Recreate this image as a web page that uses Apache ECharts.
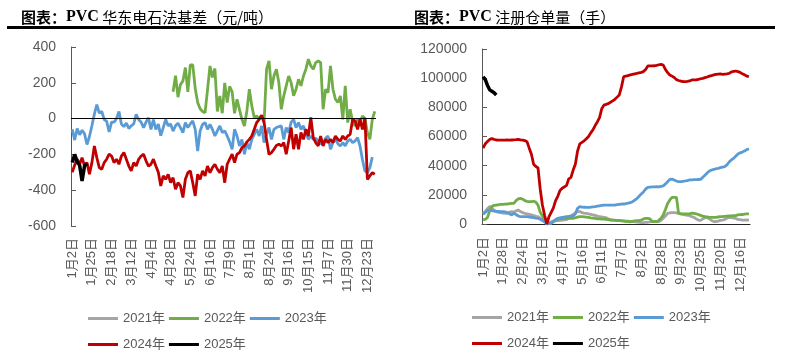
<!DOCTYPE html>
<html>
<head>
<meta charset="utf-8">
<script src="https://cdn.jsdelivr.net/npm/echarts/dist/echarts.min.js"></script>
<style>
html,body{margin:0;padding:0;background:#fff;}
#chart{width:789px;height:359px;}
</style>
</head>
<body>
<div id="chart"></div>
<script>
// ---------- data ----------
const seriesNames = ['2021年', '2022年', '2023年', '2024年', '2025年'];
const seriesColors = ['#A5A5A5', '#70AD47', '#5B9BD5', '#C00000', '#000000'];

// Left chart: PVC 华东电石法基差（元/吨）
const leftTickLabels = ['1月2日','1月25日','2月18日','3月12日','4月4日','4月28日','5月24日','6月16日','7月9日','8月1日','8月24日','9月16日','10月15日','11月7日','11月30日','12月23日'];
const leftCount = 124;
const leftStep = 8;
const leftYTicks = {min: -600, max: 400, interval: 200};

const basis2021 = [];
const basis2022 = [
  null,null,null,null,null,null,null,null,null,null,
  null,null,null,null,null,null,null,null,null,null,
  null,null,null,null,null,null,null,null,null,null,
  null,null,null,null,null,null,null,null,null,null,
  null,150,240,120,190,210,285,150,300,300,
  170,90,55,40,33,160,294,230,280,40,
  127,30,200,90,180,150,30,108,50,-4,
  -41,43,164,71,6,15,-4,15,-22,276,
  322,164,238,276,201,52,127,183,238,201,
  127,164,220,183,238,276,332,294,276,313,
  322,313,52,164,145,294,164,108,90,127,
  -4,183,-22,52,-22,-41,-4,-22,15,0,
  -78,-116,-4,40
];
const basis2023 = [
  -60,-120,-55,-90,-65,-85,-145,-100,-40,25,
  78,30,40,-5,-15,-75,-20,-20,0,40,
  -30,-45,-25,-55,-40,-30,24,-5,-20,-50,
  -20,5,-60,-5,-60,-30,-95,-50,-5,-40,
  -30,-70,-40,-25,-50,-78,-22,-50,-30,-13,
  -60,-181,-69,-32,-22,-60,-32,-60,-97,-69,
  -41,-78,-69,-97,-130,-171,-60,-97,-153,-116,
  -199,-134,-171,-116,-88,-60,-97,-41,-134,-88,
  -50,-116,-60,-50,-45,-41,-116,-50,-78,-20,
  -4,-50,-22,-60,-41,-80,-116,-97,-116,-110,
  -125,-143,-134,-110,-97,-171,-134,-116,-140,-153,
  -134,-153,-125,-116,-134,-125,-106,-153,-230,-292,
  -302,-274,-215
];
const basis2024 = [
  -300,-260,-227,-255,-218,-265,-246,-311,-246,-153,
  -218,-274,-283,-246,-227,-199,-209,-246,-227,-255,
  -209,-190,-227,-265,-292,-246,-265,-227,-209,-199,
  -236,-265,-255,-227,-265,-300,-376,-320,-339,-311,
  -358,-330,-395,-358,-376,-441,-339,-302,-292,-358,
  -432,-311,-339,-292,-320,-265,-302,-274,-255,-283,
  -302,-265,-358,-255,-227,-199,-246,-199,-190,-162,
  -153,-130,-116,-97,-60,-22,-4,19,-22,-116,
  -200,-190,-171,-150,-143,-153,-134,-199,-125,-50,
  -171,-88,-171,-78,-116,-60,-97,6,-106,-134,
  -153,-97,-153,-116,-134,-116,-134,-97,-116,-125,
  -97,-116,-97,-88,-4,-13,-60,-4,-60,5,
  -340,-320,-302,-311
];
const basis2025 = [-245,-200,-240,-260,-348,-265,-250];

// Right chart: PVC 注册仓单量（手）
const rightTickLabels = ['1月2日','1月28日','2月24日','3月21日','4月17日','5月16日','6月11日','7月7日','8月2日','8月28日','9月23日','10月25日','11月20日','12月16日'];
const rightCount = 122;
const rightStep = 9;
const rightYTicks = {min: 0, max: 120000, interval: 20000};

const receipts2021 = [
  7300,8500,10500,12000,11000,9500,8500,8000,7800,7400,
  7300,7300,8200,8500,8200,9000,9600,8500,7800,7300,
  7000,6600,6200,5800,5200,5000,4000,3000,1500,200,
  800,1500,2000,2200,2300,2500,2700,2800,3000,4000,
  5500,6500,7500,8700,8500,7800,7500,7300,7000,6600,
  6200,6000,5500,5000,4800,4600,4300,3600,3000,2700,
  2600,2500,2400,2300,2200,2000,1900,1800,1600,1500,
  1300,1100,1000,1000,1100,1200,1500,1600,1600,1600,
  1600,2500,4000,5500,7300,7600,7800,7800,7600,7300,
  7000,6600,6200,6000,5700,5000,4600,3500,2700,2500,
  3500,4300,4600,3500,2500,1600,1700,2000,2500,2700,
  3100,4000,4500,4300,4000,3800,3200,3000,2700,2700,
  2800,2700
];
const receipts2022 = [
  3000,3200,4500,9000,12000,12800,13000,13200,13500,13500,
  13600,13700,14000,14200,14200,16000,17200,17600,17000,16000,
  15500,15300,15300,15600,15000,13000,8000,5500,2500,500,
  200,500,1800,2800,3200,3600,3700,3800,3900,3900,
  3900,3900,4300,4700,5000,5000,4900,4700,4500,4200,
  4000,3800,3600,3500,3400,3300,3200,3000,2700,2600,
  2500,2400,2300,2200,2000,1800,1700,1500,1800,2200,
  2300,2300,2700,3500,3900,3900,3500,1600,1600,1600,
  2500,4000,6200,10000,14000,16500,18300,18300,18300,7300,
  7000,6900,6900,6900,6900,7500,7300,6900,6500,5900,
  5400,5000,4800,4600,4600,4600,4600,4800,5000,5000,
  5200,5400,5500,5600,5700,5800,6200,6400,6500,6800,
  6900,6900
];
const receipts2023 = [
  6500,8000,9300,9400,9100,8900,8700,8600,8500,8500,
  8300,7800,7000,6200,7300,6500,5500,5000,5000,5000,
  5000,4800,4600,4300,4000,3900,3200,2400,1600,0,
  200,500,1600,3000,3900,4200,4500,4800,5000,5200,
  5400,5500,7000,10700,11900,11600,11500,11400,11400,11500,
  11700,11900,12200,12500,12700,12900,12900,13000,13000,13000,
  13000,13300,13500,13700,13700,14000,14300,14600,15300,16300,
  17400,19000,20500,22000,24000,25100,25300,25400,25500,25600,
  25400,25800,26100,27500,29000,30600,30800,30200,29500,29000,
  29100,29300,29500,29800,30200,30300,30400,30400,30500,30600,
  32000,33400,35000,36300,37000,37400,37900,38200,38600,39000,
  39300,40500,42500,43900,45000,46500,48000,48800,49300,50000,
  51000,51500
];
const receipts2024 = [
  52000,55000,56500,58000,58500,58000,57600,57500,57500,57500,
  57500,57600,57500,57600,57700,57800,58000,57700,57500,57200,
  56400,52000,47800,41000,39500,38400,24000,13000,6000,0,
  5000,8000,11000,16000,19000,23000,24500,25500,26500,31000,
  32000,37000,41000,50000,55000,56000,57000,58500,60000,62500,
  64500,67500,70000,73000,79000,81500,82000,82500,83500,84400,
  85500,87000,88500,94000,101000,101400,101800,102200,102600,103000,
  103300,103700,104000,104500,106000,108400,108400,108400,108500,108800,
  109200,109500,109000,106000,103800,102200,101400,100500,99000,98400,
  98000,97600,97600,97800,98100,98800,98800,98800,99200,99600,
  99900,100400,100800,101400,101800,102200,102600,102800,102900,102600,
  102800,103000,103300,104200,104700,104900,104500,104000,103000,102300,
  101400,101000
];
const receipts2025 = [101000,99000,95000,92000,91000,90000,88500];

// ---------- build ----------
function makeCats(n, step, labels) {
  const out = [];
  for (let i = 0; i < n; i++) out.push(i % step === 0 && labels[i / step] ? labels[i / step] : ('#' + i));
  return out;
}
const leftCats = makeCats(leftCount, leftStep, leftTickLabels);
const rightCats = makeCats(rightCount, rightStep, rightTickLabels);

const FONT = "'Liberation Sans', 'Noto Sans CJK SC', sans-serif";
const CJK = "'Noto Sans CJK SC', sans-serif";
const labelColor = '#595959';

const leftData = [basis2021, basis2022, basis2023, basis2024, basis2025];
const rightData = [receipts2021, receipts2022, receipts2023, receipts2024, receipts2025];

function lineSeries(name, idx, data, axisIdx) {
  return {
    name: name, type: 'line', xAxisIndex: axisIdx, yAxisIndex: axisIdx,
    data: data, symbol: 'none', showSymbol: false, connectNulls: false,
    lineStyle: {color: seriesColors[idx], width: idx === 4 ? 3.5 : 2.8},
    itemStyle: {color: seriesColors[idx]},
    emphasis: {disabled: true}
  };
}

const series = [];
seriesNames.forEach((n, k) => {
  const s = lineSeries(n, k, leftData[k], 0);
  if (k === 0) {
    s.markLine = {
      silent: true, symbol: ['none', 'none'], label: {show: false},
      lineStyle: {color: '#000', width: 1, type: 'solid'},
      data: [{yAxis: 0}], animation: false
    };
  }
  series.push(s);
});
seriesNames.forEach((n, k) => series.push(lineSeries(n, k, rightData[k], 1)));

function legendRow(names, left, top) {
  return {
    data: names, left: left, top: top, padding: 0, itemGap: 4,
    icon: 'rect', itemWidth: 30, itemHeight: 3, selectedMode: false,
    textStyle: {color: labelColor, fontSize: 13, fontFamily: FONT}
  };
}

const titleRich = {
  a: {fontFamily: CJK, fontSize: 15, color: '#000', fontWeight: 'bold'},
  b: {fontFamily: "'Liberation Serif', serif", fontSize: 16, color: '#000', fontWeight: 'bold'},
  c: {fontFamily: CJK, fontSize: 15, color: '#000', fontWeight: 'normal'}
};

const plainNumber = (v) => String(v);

const option = {
  animation: false,
  backgroundColor: '#fff',
  title: [
    {text: '{a|图表：}{b|PVC}{c| 华东电石法基差（元/吨）}', left: 16, top: 4, textStyle: {rich: titleRich}},
    {text: '{a|图表：}{b|PVC}{c| 注册仓单量（手）}', left: 409, top: 4, textStyle: {rich: titleRich}}
  ],
  graphic: [
    {type: 'rect', shape: {x: 7, y: 26, width: 768, height: 3}, style: {fill: '#000'}, silent: true}
  ],
  legend: [
    legendRow(['2021年', '2022年', '2023年'], 88, 312),
    legendRow(['2024年', '2025年'], 88, 338),
    legendRow(['2021年', '2022年', '2023年'], 472, 311),
    legendRow(['2024年', '2025年'], 472, 337)
  ],
  grid: [
    {left: 71, top: 47, width: 305, height: 179},
    {left: 482, top: 49, width: 268, height: 175}
  ],
  xAxis: [
    {
      type: 'category', gridIndex: 0, data: leftCats, boundaryGap: true,
      axisLine: {show: false}, axisTick: {show: false}, splitLine: {show: false},
      axisLabel: {rotate: 90, interval: (i) => i % leftStep === 0, color: labelColor, fontSize: 13, fontFamily: FONT, margin: 12}
    },
    {
      type: 'category', gridIndex: 1, data: rightCats, boundaryGap: true,
      axisLine: {show: true, lineStyle: {color: '#262626', width: 1}}, axisTick: {show: false}, splitLine: {show: false},
      axisLabel: {rotate: 90, interval: (i) => i % rightStep === 0, color: labelColor, fontSize: 13, fontFamily: FONT, margin: 13}
    }
  ],
  yAxis: [
    {
      type: 'value', gridIndex: 0, min: leftYTicks.min, max: leftYTicks.max, interval: leftYTicks.interval,
      axisLine: {show: true, lineStyle: {color: labelColor, width: 1}},
      axisTick: {show: true, inside: true, length: 5, lineStyle: {color: labelColor}},
      splitLine: {show: false},
      axisLabel: {color: labelColor, fontSize: 14, fontFamily: FONT, margin: 15, formatter: plainNumber}
    },
    {
      type: 'value', gridIndex: 1, min: rightYTicks.min, max: rightYTicks.max, interval: rightYTicks.interval,
      axisLine: {show: true, lineStyle: {color: labelColor, width: 1}},
      axisTick: {show: true, inside: true, length: 5, lineStyle: {color: labelColor}},
      splitLine: {show: false},
      axisLabel: {color: labelColor, fontSize: 14, fontFamily: FONT, margin: 15, formatter: plainNumber}
    }
  ],
  series: series
};

const chart = echarts.init(document.getElementById('chart'), null, {renderer: 'canvas'});
chart.setOption(option);
</script>
</body>
</html>
